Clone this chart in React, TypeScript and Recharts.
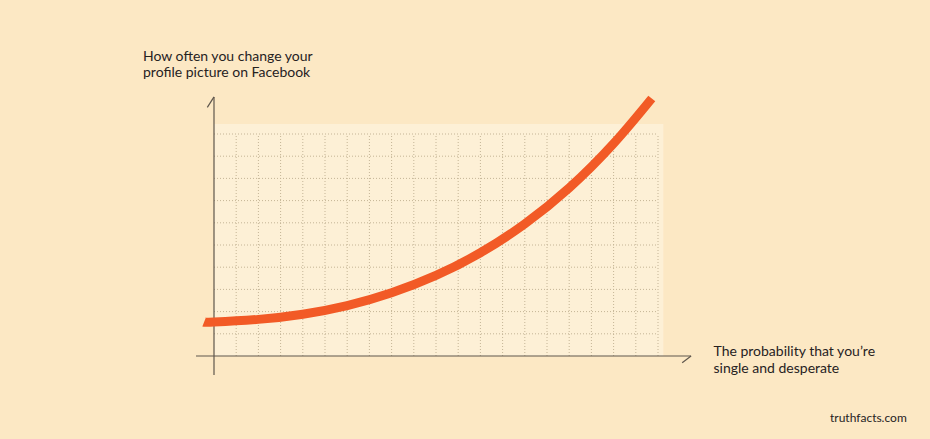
import React from "react";
import { LineChart, Line, XAxis, YAxis, ReferenceLine, ReferenceArea } from "recharts";

// Curve values (data units: one grid cell = 1)
const curveX = [-0.45, 0, 2, 4, 6, 8, 10, 12, 14, 16, 18, 19.72];
const curveY = [1.52, 1.53, 1.65, 1.88, 2.27, 2.85, 3.63, 4.65, 5.95, 7.57, 9.57, 11.6];

// Grid ticks
const gridXTicks = [1, 2, 3, 4, 5, 6, 7, 8, 9, 10, 11, 12, 13, 14, 15, 16, 17, 18, 19, 20];
const gridYTicks = [1, 2, 3, 4, 5, 6, 7, 8, 9, 10];

// Axis extents
const xAxisExtent = [-0.81, 21.49];
const yAxisExtent = [-0.86, 11.67];
const gridExtentX = [0, 20];
const gridExtentY = [0, 10];
const panelExtent = { x: [0, 20.24], y: [0, 10.45] };

const yTitle = ["How often you change your", "profile picture on Facebook"];
const xTitle = ["The probability that you\u2019re", "single and desperate"];
const credit = "truthfacts.com";

const data = curveX.map((x, i) => ({ x, y: curveY[i] }));

const BG = "#FCE8C4";
const PANEL = "#FDF0D6";
const GRID = "#C4B496";
const AXIS = "#5E564C";
const ORANGE = "#F25A26";
const TEXT = "#26221F";

export default function App() {
  return (
    <div style={{ position: "absolute", left: 0, top: 0, width: 930, height: 439, background: BG, overflow: "hidden" }}>
      <LineChart
        width={930}
        height={439}
        data={data}
        margin={{ top: 89.6, right: 227.6, bottom: 60.8, left: 191.8 }}
      >
        <XAxis type="number" dataKey="x" domain={[-1, 22]} allowDataOverflow hide ticks={gridXTicks} />
        <YAxis type="number" dataKey="y" domain={[-1, 12]} allowDataOverflow hide ticks={gridYTicks} />
        <ReferenceArea
          x1={panelExtent.x[0]}
          x2={panelExtent.x[1]}
          y1={panelExtent.y[0]}
          y2={panelExtent.y[1]}
          fill={PANEL}
          fillOpacity={1}
          stroke="none"
          ifOverflow="visible"
        />
        {gridYTicks.map((v) => (
          <ReferenceLine
            key={"h" + v}
            segment={[{ x: gridExtentX[0], y: v }, { x: gridExtentX[1], y: v }]}
            stroke={GRID}
            strokeWidth={1}
            strokeDasharray="1 2"
            ifOverflow="visible"
          />
        ))}
        {gridXTicks.map((v) => (
          <ReferenceLine
            key={"v" + v}
            segment={[{ x: v, y: gridExtentY[0] }, { x: v, y: gridExtentY[1] }]}
            stroke={GRID}
            strokeWidth={1}
            strokeDasharray="1 2"
            ifOverflow="visible"
          />
        ))}
        <ReferenceLine
          segment={[{ x: xAxisExtent[0], y: 0 }, { x: xAxisExtent[1], y: 0 }]}
          stroke={AXIS}
          strokeWidth={1.2}
          ifOverflow="visible"
        />
        <ReferenceLine
          segment={[{ x: xAxisExtent[1], y: 0 }, { x: 21.09, y: -0.3 }]}
          stroke={AXIS}
          strokeWidth={1.2}
          ifOverflow="visible"
        />
        <ReferenceLine
          segment={[{ x: 0, y: yAxisExtent[0] }, { x: 0, y: yAxisExtent[1] }]}
          stroke={AXIS}
          strokeWidth={1.2}
          ifOverflow="visible"
        />
        <ReferenceLine
          segment={[{ x: 0, y: yAxisExtent[1] }, { x: -0.3, y: 11.2 }]}
          stroke={AXIS}
          strokeWidth={1.2}
          ifOverflow="visible"
        />
        <Line
          type="natural"
          dataKey="y"
          stroke={ORANGE}
          strokeWidth={9}
          strokeLinecap="butt"
          dot={false}
          activeDot={false}
          isAnimationActive={false}
          zIndex={1000}
        />
      </LineChart>
      <svg
        width={930}
        height={439}
        style={{ position: "absolute", left: 0, top: 0, pointerEvents: "none" }}
      >
        <g fontFamily="Lato, 'Open Sans', sans-serif" fill={TEXT}>
          <text x={143} y={60.7} fontSize={14}>{yTitle[0]}</text>
          <text x={143} y={77.3} fontSize={14}>{yTitle[1]}</text>
          <text x={713.5} y={356} fontSize={14}>{xTitle[0]}</text>
          <text x={713.5} y={373.3} fontSize={14}>{xTitle[1]}</text>
          <text x={830} y={422.3} fontSize={12}>{credit}</text>
        </g>
      </svg>
    </div>
  );
}
